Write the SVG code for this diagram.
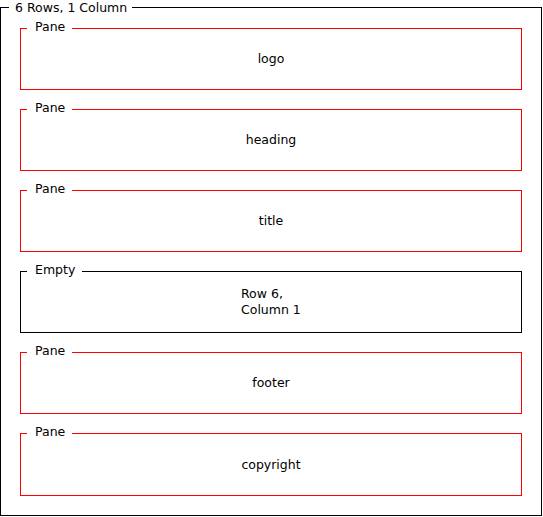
<svg xmlns="http://www.w3.org/2000/svg" width="543" height="517" viewBox="0 0 543 517">
<style>
text{font-family:"DejaVu Sans",sans-serif;font-size:12.5px;fill:#000}
.c{text-anchor:middle}
.pane{fill:none;stroke:#ff0000;stroke-width:1}
.empty{fill:none;stroke:#000;stroke-width:1}
.gap{fill:#fff;stroke:none}
</style>
<rect width="543" height="517" fill="#fff"/>
<g id="grid">
<rect x="0.5" y="7.5" width="541" height="508" class="empty"/>
<rect x="9" y="2" width="123" height="11" class="gap"/>
<text x="15" y="12">6 Rows, 1 Column</text>
</g>
<g id="logo">
<rect x="20.5" y="28.5" width="501" height="61" class="pane"/>
<rect x="27" y="22" width="45" height="11" class="gap"/>
<text x="35" y="31">Pane</text>
<text x="271" y="63" class="c">logo</text>
</g>
<g id="heading">
<rect x="20.5" y="109.5" width="501" height="61" class="pane"/>
<rect x="27" y="103" width="45" height="11" class="gap"/>
<text x="35" y="112">Pane</text>
<text x="271" y="144" class="c">heading</text>
</g>
<g id="title">
<rect x="20.5" y="190.5" width="501" height="61" class="pane"/>
<rect x="27" y="184" width="45" height="11" class="gap"/>
<text x="35" y="193">Pane</text>
<text x="271" y="225" class="c">title</text>
</g>
<g id="empty">
<rect x="20.5" y="271.5" width="501" height="61" class="empty"/>
<rect x="27" y="265" width="55" height="11" class="gap"/>
<text x="35" y="274">Empty</text>
<text x="241" y="298">Row 6,</text>
<text x="241" y="314">Column 1</text>
</g>
<g id="footer">
<rect x="20.5" y="352.5" width="501" height="61" class="pane"/>
<rect x="27" y="346" width="45" height="11" class="gap"/>
<text x="35" y="355">Pane</text>
<text x="271" y="387" class="c">footer</text>
</g>
<g id="copyright">
<rect x="20.5" y="433.5" width="501" height="62" class="pane"/>
<rect x="27" y="427" width="45" height="11" class="gap"/>
<text x="35" y="436">Pane</text>
<text x="271" y="469" class="c">copyright</text>
</g>
<g id="connectors"></g>
</svg>
